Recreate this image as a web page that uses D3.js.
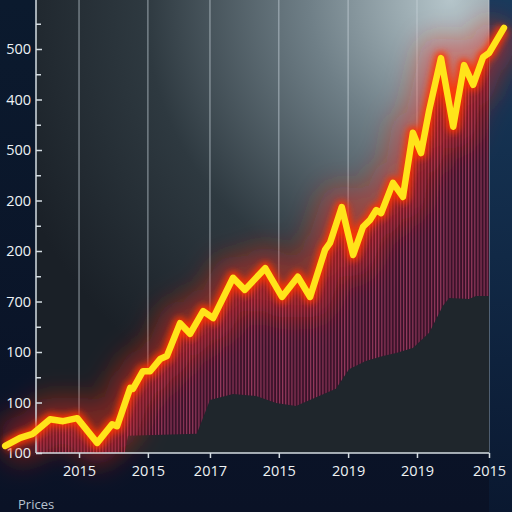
<!DOCTYPE html>
<html>
<head>
<meta charset="utf-8">
<script src="https://cdn.jsdelivr.net/npm/d3@7"></script>
<style>
  body { margin: 0; background: #0a1226; }
  svg { display: block; }
</style>
</head>
<body>
<svg width="512" height="512"></svg>
<script>
// price line, t = position along the time axis (0..100), v = price level in tick units
var lineT = [-6.8, -3.5, -0.7, 3.1, 6.0, 9.1, 13.5, 16.8, 17.9, 20.8, 21.4, 23.6, 25.2, 27.4, 28.9,
    31.8, 34.0, 36.9, 39.1, 43.5, 46.1, 50.6, 54.3, 57.8, 60.5, 63.8, 64.9, 67.5, 70.0, 72.2,
    73.7, 75.1, 76.2, 78.8, 81.0, 83.2, 85.0, 86.8, 89.4, 92.1, 94.5, 96.5, 98.7, 100, 103.3];
var lineV = [0.14, 0.30, 0.38, 0.67, 0.63, 0.69, 0.20, 0.57, 0.53, 1.29, 1.27, 1.62, 1.62, 1.86, 1.92,
    2.57, 2.36, 2.81, 2.67, 3.47, 3.23, 3.66, 3.09, 3.49, 3.09, 4.02, 4.16, 4.87, 3.92, 4.48,
    4.61, 4.81, 4.75, 5.35, 5.07, 6.34, 5.94, 6.79, 7.82, 6.46, 7.68, 7.29, 7.84, 7.92, 8.42];

// lower band (dark area)
var lowT = [0, 19.6, 20.3, 35.5, 38.4, 43.5, 48.6, 53.0, 57.4, 62.5, 66.2, 69.1, 72.8, 76.6,
    79.5, 83.2, 86.8, 89.8, 91.2, 95.6, 97.1, 100];
var lowV = [0, 0, 0.34, 0.38, 1.05, 1.17, 1.13, 0.99, 0.93, 1.13, 1.27, 1.66, 1.82, 1.92,
    1.98, 2.08, 2.38, 2.91, 3.07, 3.05, 3.11, 3.11];

var xTickT = [9.5, 24.7, 38.4, 53.6, 68.9, 84.1, 100];
var xTickLabels = ["2015", "2015", "2017", "2015", "2019", "2019", "2015"];
var yTickV = [0, 1, 2, 3, 4, 5, 6, 7, 8];
var yTickLabels = ["100", "100", "100", "700", "200", "200", "500", "400", "500"];

var svg = d3.select("svg"),
    width = +svg.attr("width"),
    height = +svg.attr("height");

var left = 36, right = 489, bottom = 453;

var x = d3.scaleLinear().domain([0, 100]).range([left, right]);
var y = d3.scaleLinear().domain([0, 8]).range([bottom, 49]);

var lineData = lineT.map(function(t, i) { return { t: t, v: lineV[i] }; });
var lowData = lowT.map(function(t, i) { return { t: t, v: lowV[i] }; });

var defs = svg.append("defs");

var bgGrad = defs.append("radialGradient").attr("id", "plotbg")
    .attr("gradientUnits", "userSpaceOnUse")
    .attr("cx", 450).attr("cy", 0).attr("r", 470);
bgGrad.append("stop").attr("offset", 0).attr("stop-color", "#b5c5ca");
bgGrad.append("stop").attr("offset", 0.3).attr("stop-color", "#6f7f87");
bgGrad.append("stop").attr("offset", 0.65).attr("stop-color", "#2e3940");
bgGrad.append("stop").attr("offset", 1).attr("stop-color", "#1a2027");

var rightGrad = defs.append("linearGradient").attr("id", "rightbg")
    .attr("x1", 0).attr("y1", 0).attr("x2", 0).attr("y2", 1);
rightGrad.append("stop").attr("offset", 0).attr("stop-color", "#183a5c");
rightGrad.append("stop").attr("offset", 1).attr("stop-color", "#0a1830");

var leftGrad = defs.append("linearGradient").attr("id", "leftbg")
    .attr("x1", 0).attr("y1", 0).attr("x2", 0).attr("y2", 1);
leftGrad.append("stop").attr("offset", 0).attr("stop-color", "#0b1a2e");
leftGrad.append("stop").attr("offset", 1).attr("stop-color", "#0a1226");

var pattern = defs.append("pattern").attr("id", "stripes")
    .attr("patternUnits", "userSpaceOnUse")
    .attr("width", 3.1).attr("height", 10);
pattern.append("rect").attr("width", 3.1).attr("height", 10).attr("fill", "#3a1229");
pattern.append("rect").attr("width", 1.1).attr("height", 10).attr("fill", "#93385c");

defs.append("clipPath").attr("id", "plotclip")
  .append("rect").attr("x", left).attr("y", 0).attr("width", right - left).attr("height", bottom);

var glow = defs.append("filter").attr("id", "glow")
    .attr("x", "-20%").attr("y", "-20%").attr("width", "140%").attr("height", "140%");
glow.append("feGaussianBlur").attr("stdDeviation", 13);

var glow2 = defs.append("filter").attr("id", "glow2")
    .attr("x", "-20%").attr("y", "-20%").attr("width", "140%").attr("height", "140%");
glow2.append("feGaussianBlur").attr("stdDeviation", 3);

// backgrounds
svg.append("rect").attr("width", width).attr("height", height).attr("fill", "url(#leftbg)");
svg.append("rect").attr("x", left).attr("y", 0).attr("width", right - left).attr("height", bottom)
    .attr("fill", "url(#plotbg)");
svg.append("rect").attr("x", right).attr("y", 0).attr("width", width - right).attr("height", height)
    .attr("fill", "url(#rightbg)");

// gridlines
svg.append("g").selectAll("line")
    .data(xTickT)
    .enter().append("line")
      .attr("x1", function(d) { return x(d); })
      .attr("x2", function(d) { return x(d); })
      .attr("y1", 0).attr("y2", bottom)
      .attr("stroke", "#c9d3da").attr("stroke-opacity", 0.55).attr("stroke-width", 1.3);

var lineGen = d3.line()
    .x(function(d) { return x(d.t); })
    .y(function(d) { return y(d.v); });

var bandArea = d3.area()
    .x(function(d) { return x(d.t); })
    .y0(bottom)
    .y1(function(d) { return y(d.v); });

var plot = svg.append("g").attr("clip-path", "url(#plotclip)");

plot.append("path").datum(lineData)
    .attr("d", bandArea)
    .attr("fill", "url(#stripes)");

plot.append("path").datum(lowData)
    .attr("d", bandArea)
    .attr("fill", "#1f262c");

// red haze
svg.append("path").datum(lineData)
    .attr("d", lineGen)
    .attr("fill", "none").attr("stroke", "#ff2a10").attr("stroke-width", 44)
    .attr("stroke-opacity", 0.42).attr("stroke-linejoin", "round")
    .attr("filter", "url(#glow)");

// axes
var yAxis = d3.axisLeft(y)
    .tickValues(yTickV)
    .tickSize(-6)
    .tickPadding(5)
    .tickFormat(function(d, i) { return yTickLabels[i]; });

var yMinor = d3.axisLeft(y)
    .tickValues(yTickV.map(function(d) { return d + 0.5; }))
    .tickSize(-5)
    .tickFormat("");

var xAxis = d3.axisBottom(x)
    .tickValues(xTickT)
    .tickSize(5)
    .tickPadding(8)
    .tickFormat(function(d, i) { return xTickLabels[i]; });

var gy = svg.append("g").attr("transform", "translate(" + left + ",0)").call(yAxis);
svg.append("g").attr("transform", "translate(" + left + ",0)").call(yMinor)
    .call(function(g) { g.select(".domain").remove(); });
var gx = svg.append("g").attr("transform", "translate(0," + bottom + ")").call(xAxis);

svg.selectAll(".domain").attr("stroke", "#d4dce2").attr("stroke-width", 1.5);
svg.selectAll(".tick line").attr("stroke", "#d4dce2").attr("stroke-width", 1.5);
svg.selectAll(".tick text")
    .attr("fill", "#eef2f5")
    .style("font-family", "'Open Sans', sans-serif")
    .style("font-size", "14.5px");
gy.select(".domain").attr("d", "M0,-5V" + bottom);
gx.select(".domain").attr("d", "M" + left + ",0H" + right);

// glowing price line
svg.append("path").datum(lineData)
    .attr("d", lineGen)
    .attr("fill", "none").attr("stroke", "#ff3300").attr("stroke-width", 13)
    .attr("stroke-opacity", 0.9).attr("stroke-linejoin", "round")
    .attr("filter", "url(#glow2)");

svg.append("path").datum(lineData)
    .attr("d", lineGen)
    .attr("fill", "none").attr("stroke", "#ffe41a").attr("stroke-width", 6.5)
    .attr("stroke-linejoin", "round").attr("stroke-linecap", "round");

svg.append("text")
    .attr("x", 18).attr("y", 509)
    .attr("fill", "#b8c3cf")
    .style("font-family", "'Open Sans', sans-serif")
    .style("font-size", "13px")
    .text("Prices");
</script>
</body>
</html>
